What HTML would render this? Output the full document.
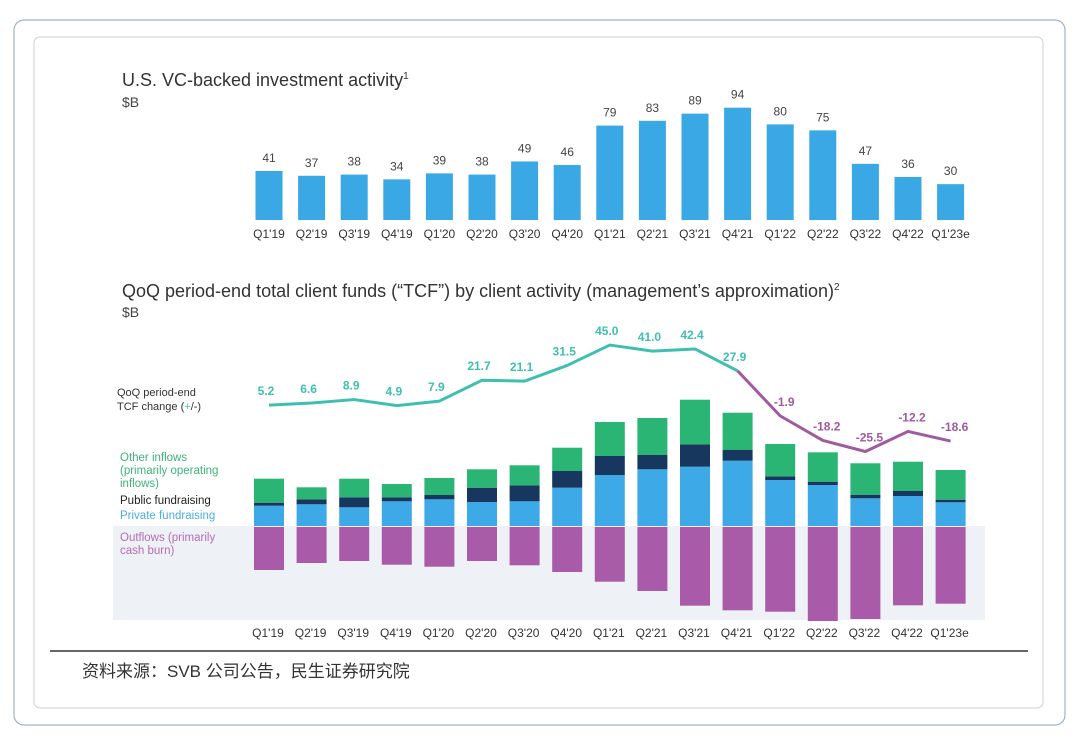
<!DOCTYPE html>
<html><head><meta charset="utf-8">
<style>
body{margin:0;background:#fff;width:1080px;height:739px;overflow:hidden;font-family:"Liberation Sans","Noto Sans CJK SC",sans-serif}
svg{position:absolute;left:0;top:0}
</style></head>
<body>
<svg width="1080" height="739" id="fig">
<rect x="14" y="20" width="1051" height="705" rx="10" fill="none" stroke="#9fb3c8" stroke-width="1.2"/>
<rect x="34" y="37" width="1009" height="671" rx="6" fill="none" stroke="#c8d2dc" stroke-width="1"/>
<text x="122" y="86" font-size="18" fill="#333">U.S. VC-backed investment activity<tspan font-size="10" dy="-7">1</tspan></text>
<text x="122" y="107" font-size="14" fill="#444">$B</text>
<text x="122" y="297" font-size="18" fill="#333">QoQ period-end total client funds (“TCF”) by client activity (management’s approximation)<tspan font-size="10" dy="-7">2</tspan></text>
<text x="122" y="317" font-size="14" fill="#444">$B</text>
<rect x="113" y="526" width="872" height="94" fill="#eef1f5"/>
<line x1="50" y1="651" x2="1028" y2="651" stroke="#333" stroke-width="1.5"/>
<text x="82" y="677" font-size="17" fill="#333">资料来源：SVB 公司公告，民生证券研究院</text>
<g font-size="11" fill="#333">
<text x="117" y="396">QoQ period-end</text>
<text x="117" y="410">TCF change (<tspan fill="#3fbfb0">+</tspan>/-)</text>
</g>
<g font-size="11.5">
<text x="120" y="461" fill="#3db37a">Other inflows</text>
<text x="120" y="474" fill="#3db37a">(primarily operating</text>
<text x="120" y="487" fill="#3db37a">inflows)</text>
<text x="120" y="504" fill="#222">Public fundraising</text>
<text x="120" y="519" fill="#4aaee0">Private fundraising</text>
<text x="120" y="541" fill="#b46fb3">Outflows (primarily</text>
<text x="120" y="554" fill="#b46fb3">cash burn)</text>
</g>
<g id="topg"></g><g id="botg"></g>
</svg>
<script>
const categories=["Q1'19","Q2'19","Q3'19","Q4'19","Q1'20","Q2'20","Q3'20","Q4'20","Q1'21","Q2'21","Q3'21","Q4'21","Q1'22","Q2'22","Q3'22","Q4'22","Q1'23e"];
const vcInvestment=[41,37,38,34,39,38,49,46,79,83,89,94,80,75,47,36,30];
const privateFund=[20.3,21.7,18.7,24.7,26.7,24,24.7,38.3,51,56.7,59.3,65.3,46,41,27.7,30,23.7];
const publicFund=[3,5,10,4,4.3,14.3,16,16.7,19,14.3,22.4,10.7,3.7,3.3,3.6,5,2.6];
const otherInflows=[24,12,18.6,13.3,17,18.4,20,23.3,34,37,44.6,37.3,32.3,29.4,31.4,29.3,29.7];
const outflows=[43,36,34,37.7,39.7,34,38.3,45,54.7,64,78.7,83.3,84.7,94,92,78.3,76.7];
const tcfChange=[5.2,6.6,8.9,4.9,7.9,21.7,21.1,31.5,45.0,41.0,42.4,27.9,-1.9,-18.2,-25.5,-12.2,-18.6];
const NS="http://www.w3.org/2000/svg";
function mk(tag,attrs,parent){const e=document.createElementNS(NS,tag);for(const k in attrs)e.setAttribute(k,attrs[k]);parent.appendChild(e);return e;}
const xc=i=>269+i*42.6;
const bw=27;
const yTop=v=>220-v*1.195;
const yStack=v=>526-v;
const yLine=v=>413-v*1.51;
const gTop=document.getElementById('topg'), gBot=document.getElementById('botg');
categories.forEach((c,i)=>{
  const v=vcInvestment[i];
  const r=mk('rect',{x:xc(i)-bw/2,y:yTop(v),width:bw,height:220-yTop(v),fill:'#3aa8e4'},gTop);
  
  
  const t=mk('text',{x:xc(i),y:yTop(v)-9,'font-size':12,fill:'#444','text-anchor':'middle'},gTop);t.textContent=v;
  
  
  const xl=mk('text',{x:xc(i),y:238,'font-size':12,fill:'#333','text-anchor':'middle'},gTop);xl.textContent=c;
  
  
  let base=0;
  [[privateFund[i],'#3da9e6','private'],[publicFund[i],'#17375e','public'],[otherInflows[i],'#2bb574','other']].forEach(s=>{
    const b=mk('rect',{x:xc(i)-bw/2-1.5,y:yStack(base+s[0]),width:bw+3,height:s[0],fill:s[1]},gBot);
    
    
    base+=s[0];
  });
  const o=mk('rect',{x:xc(i)-bw/2-1.5,y:527,width:bw+3,height:outflows[i],fill:'#a95aa8'},gBot);
  
  
  const xb=mk('text',{x:xc(i)-1,y:637,'font-size':12,fill:'#333','text-anchor':'middle'},gBot);xb.textContent=c;
  
  
});
const split=11;
const ptsA=tcfChange.slice(0,split+1).map((v,i)=>xc(i)+','+yLine(v)).join(' ');
const ptsB=tcfChange.slice(split).map((v,j)=>xc(j+split)+','+yLine(v)).join(' ');
const la=mk('polyline',{points:ptsA,fill:'none',stroke:'#3fbfb0','stroke-width':3,'stroke-linejoin':'round'},gBot);


const lb=mk('polyline',{points:ptsB,fill:'none',stroke:'#a05a9f','stroke-width':3,'stroke-linejoin':'round'},gBot);


tcfChange.forEach((v,i)=>{
  const t=mk('text',{x:xc(i)+(i>=12?4:-3),y:yLine(v)-10,'font-size':12,'font-weight':'bold',fill:i>=12?'#a05a9f':'#3fbfb0','text-anchor':'middle'},gBot);
  t.textContent=v.toFixed(1);
  
  
});
</script>
</body></html>
